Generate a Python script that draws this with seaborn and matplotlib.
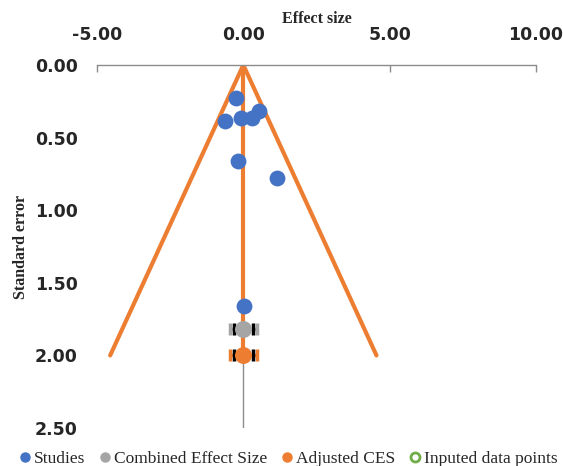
import matplotlib
matplotlib.use("Agg")
import matplotlib.pyplot as plt
import seaborn as sns
import pandas as pd
from matplotlib.lines import Line2D

# ---- data ----
study_es = [-0.24, -0.62, -0.07, 0.31, 0.55, -0.17, 1.16, 0.03]
study_se = [0.23, 0.385, 0.365, 0.365, 0.32, 0.66, 0.78, 1.66]
ces_es, ces_se = 0.0, 1.82
adj_es, adj_se = 0.0, 2.0
ci_outer = 0.47
ci_inner = 0.33
funnel_x = [-4.55, 0.0, 4.55]
funnel_y = [2.0, 0.0, 2.0]
center_x = [0.0, 0.0]
center_y = [0.0, 2.0]
x_ticks = [-5, 0, 5, 10]
y_ticks = [0.0, 0.5, 1.0, 1.5, 2.0, 2.5]

sns.set_theme(style="white")
plt.rcParams['font.family'] = ['DejaVu Sans']

fig = plt.figure(figsize=(5.63, 4.66), dpi=100)
ax = fig.add_axes([0.1723, 0.0815, 0.952 - 0.1723, 0.8605 - 0.0815])

orange = "#ED7D31"
blue = "#4472C4"
gray = "#A5A5A5"

# vertical axis at x=0
ax.axvline(0, color="#8c8c8c", lw=1.0, zorder=1)

# funnel
fdf = pd.DataFrame({"x": funnel_x, "y": funnel_y})
sns.lineplot(data=fdf, x="x", y="y", sort=False, estimator=None, color=orange, lw=3, ax=ax, zorder=2)
cdf = pd.DataFrame({"x": center_x, "y": center_y})
sns.lineplot(data=cdf, x="x", y="y", sort=False, estimator=None, color=orange, lw=3, ax=ax, zorder=2)

# studies
sdf = pd.DataFrame({"es": study_es, "se": study_se})
sns.scatterplot(data=sdf, x="es", y="se", color=blue, s=130, edgecolor=blue, linewidth=0, ax=ax, zorder=4)

# combined and adjusted with error bars
for es, se, col in [(ces_es, ces_se, gray), (adj_es, adj_se, orange)]:
    ax.errorbar([es], [se], xerr=[ci_outer], fmt="none", ecolor=col, elinewidth=2.5, capsize=4, capthick=2.5, zorder=3)
    ax.errorbar([es], [se], xerr=[ci_inner], fmt="none", ecolor="black", elinewidth=0, capsize=4, capthick=2.5, zorder=3)
    ax.scatter([es], [se], s=150, color=col, zorder=5, linewidths=0)

ax.set_xlim(-5, 10)
ax.set_ylim(2.5, 0)
ax.xaxis.tick_top()
ax.xaxis.set_label_position("top")
ax.set_xticks(x_ticks)
ax.set_xticklabels([f"{v:.2f}" for v in x_ticks], fontsize=12.5, fontweight="bold")
ax.set_yticks(y_ticks)
ax.set_yticklabels([f"{v:.2f}" for v in y_ticks], fontsize=12.5, fontweight="bold")
ax.tick_params(axis="x", direction="in", length=5, color="#8c8c8c", width=1, pad=15, top=True, bottom=False)
ax.tick_params(axis="y", length=0, pad=14)

for s in ["left", "right", "bottom"]:
    ax.spines[s].set_visible(False)
ax.spines["top"].set_color("#8c8c8c")
ax.spines["top"].set_linewidth(1)

ax.set_xlabel("Effect size", family="Liberation Serif", fontweight="bold", fontsize=11.5)
ax.set_ylabel("Standard error", family="Liberation Serif", fontweight="bold", fontsize=11.5)
ax.xaxis.set_label_coords(0.5, 1.115)
ax.yaxis.set_label_coords(-0.155, 0.5)

handles = [
    Line2D([], [], marker="o", ls="none", color=blue, markersize=6.5),
    Line2D([], [], marker="o", ls="none", color=gray, markersize=6.5),
    Line2D([], [], marker="o", ls="none", color=orange, markersize=6.5),
    Line2D([], [], marker="o", ls="none", markerfacecolor="none", markeredgecolor="#70AD47", markeredgewidth=2, markersize=6.5),
]
labels = ["Studies", "Combined Effect Size", "Adjusted CES", "Inputed data points"]
fig.legend(handles, labels, loc="lower center", bbox_to_anchor=(0.51, -0.035), ncol=4, frameon=False,
           prop={"family": "Liberation Serif", "size": 12.5}, handletextpad=0.0, columnspacing=0.65, handlelength=1.0)

fig.savefig("out.png", dpi=100)
